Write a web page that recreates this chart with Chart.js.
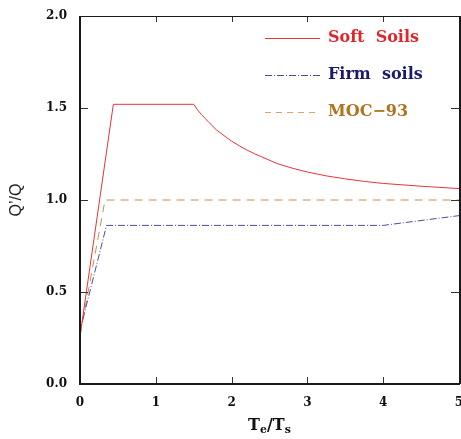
<!DOCTYPE html>
<html>
<head>
<meta charset="utf-8">
<script src="https://cdn.jsdelivr.net/npm/chart.js@4/dist/chart.umd.min.js"></script>
<style>
  html, body { margin: 0; padding: 0; background: #fff; }
  #wrap { width: 461px; height: 439px; }
</style>
</head>
<body>
<div id="wrap"><canvas id="chart" width="461" height="439"></canvas></div>
<script>
// ---- data ----
const softX = [0, 0.44, 1.5, 1.55, 1.6, 1.65, 1.7, 1.8, 1.9, 2.0, 2.1, 2.2, 2.3, 2.4, 2.6, 2.8, 3.0, 3.25, 3.5, 3.75, 4.0, 4.5, 5.0];
const softY = [0.26, 1.52, 1.52, 1.49, 1.465, 1.444, 1.422, 1.381, 1.35, 1.32, 1.295, 1.272, 1.252, 1.234, 1.198, 1.173, 1.152, 1.131, 1.115, 1.101, 1.09, 1.075, 1.062];

const firmX = [0, 0.35, 4.0, 5.0];
const firmY = [0.29, 0.862, 0.862, 0.915];

const mocX = [0, 0.33, 5.0];
const mocY = [0.26, 1.0, 1.0];

const seriesLabels = ["Soft  Soils", "Firm  soils", "MOC\u221293"];
const xTicks = [0, 1, 2, 3, 4, 5];
const yTicks = [0, 0.5, 1.0, 1.5, 2.0];

const SERIF = '"DejaVu Serif", "Liberation Serif", serif';

function pts(xs, ys) {
    return xs.map((x, i) => ({ x, y: ys[i] }));
}

// legend styles (line colour differs a bit from text colour in the original)
const legendStyle = [
    { line: "#e8343a", text: "#e0262c", dash: [] },
    { line: "#4c4c9c", text: "#1c1a6c", dash: [7, 2, 1, 2] },
    { line: "#d6a464", text: "#b0741e", dash: [6, 5] }
];

// ============================================================
// frame, inward ticks, legend and x title with subscripts
// ============================================================
const framePlugin = {
    id: "frame",
    afterDraw(chart) {
        const { ctx, chartArea: a, scales: { x, y } } = chart;
        ctx.save();

        // inward ticks
        ctx.strokeStyle = "#333";
        ctx.lineWidth = 1;
        ctx.beginPath();
        xTicks.forEach(v => {
            const px = Math.round(x.getPixelForValue(v)) + 0.5;
            ctx.moveTo(px, a.bottom); ctx.lineTo(px, a.bottom - 7);
            ctx.moveTo(px, a.top); ctx.lineTo(px, a.top + 6);
        });
        yTicks.forEach(v => {
            const py = Math.round(y.getPixelForValue(v)) + 0.5;
            ctx.moveTo(a.left, py); ctx.lineTo(a.left + 8, py);
            ctx.moveTo(a.right, py); ctx.lineTo(a.right - 8, py);
        });
        ctx.stroke();

        // box: thin top, heavy left / bottom / right
        ctx.strokeStyle = "#1a1a1a";
        ctx.lineWidth = 1;
        ctx.beginPath();
        ctx.moveTo(a.left, Math.round(a.top) + 0.5);
        ctx.lineTo(a.right, Math.round(a.top) + 0.5);
        ctx.stroke();
        ctx.lineWidth = 2;
        ctx.beginPath();
        ctx.moveTo(a.left, a.top);
        ctx.lineTo(a.left, a.bottom);
        ctx.lineTo(a.right + 1, a.bottom);
        ctx.moveTo(a.right + 1, a.top);
        ctx.lineTo(a.right + 1, a.bottom);
        ctx.stroke();

        // legend
        ctx.font = "bold 16px " + SERIF;
        ctx.textBaseline = "middle";
        ctx.textAlign = "left";
        const rowY = [38, 75, 112];
        chart.data.datasets.forEach((ds, i) => {
            const st = legendStyle[i];
            ctx.strokeStyle = st.line;
            ctx.lineWidth = 1;
            ctx.setLineDash(st.dash);
            ctx.beginPath();
            ctx.moveTo(265, rowY[i] + 0.5);
            ctx.lineTo(320, rowY[i] + 0.5);
            ctx.stroke();
            ctx.setLineDash([]);
            ctx.fillStyle = st.text;
            ctx.fillText(ds.label, 328, rowY[i]);
        });

        // x title: T_e / T_s
        const big = "bold 16px " + SERIF;
        const small = "bold 11px " + SERIF;
        const parts = [["T", big, 0], ["e", small, 3], ["/", big, 0], ["T", big, 0], ["s", small, 3]];
        let w = 0;
        parts.forEach(p => { ctx.font = p[1]; w += ctx.measureText(p[0]).width; });
        let cx = (a.left + a.right) / 2 - w / 2;
        ctx.textBaseline = "alphabetic";
        ctx.fillStyle = "#111";
        parts.forEach(p => {
            ctx.font = p[1];
            ctx.fillText(p[0], cx, 430 + p[2]);
            cx += ctx.measureText(p[0]).width;
        });

        ctx.restore();
    }
};

new Chart(document.getElementById("chart"), {
    type: "line",
    data: {
        datasets: [
            {
                label: seriesLabels[0],
                data: pts(softX, softY),
                borderColor: "#e8343a",
                borderWidth: 1,
                pointRadius: 0,
                tension: 0
            },
            {
                label: seriesLabels[1],
                data: pts(firmX, firmY),
                borderColor: "#4c4c9c",
                borderWidth: 1,
                borderDash: [7, 2, 1, 2],
                pointRadius: 0,
                tension: 0
            },
            {
                label: seriesLabels[2],
                data: pts(mocX, mocY),
                borderColor: "#c8904a",
                borderWidth: 1,
                borderDash: [8, 6],
                pointRadius: 0,
                tension: 0
            }
        ]
    },
    options: {
        responsive: false,
        animation: false,
        layout: { padding: { top: 16, right: 2, left: 0, bottom: 0 } },
        plugins: {
            legend: { display: false },
            tooltip: { enabled: false }
        },
        scales: {
            x: {
                type: "linear",
                min: 0,
                max: 5,
                afterBuildTicks: s => { s.ticks = xTicks.map(v => ({ value: v })); },
                ticks: {
                    padding: 12,
                    color: "#111",
                    font: { family: SERIF, weight: "bold", size: 12 },
                    maxRotation: 0,
                    callback: v => String(v)
                },
                grid: { display: false, drawTicks: false },
                border: { display: false },
                afterFit: s => { s.height = 55; s.paddingLeft = 0; s.paddingRight = 0; }
            },
            y: {
                type: "linear",
                min: 0,
                max: 2,
                afterBuildTicks: s => { s.ticks = yTicks.map(v => ({ value: v })); },
                ticks: {
                    padding: 13,
                    color: "#111",
                    font: { family: SERIF, weight: "bold", size: 12 },
                    callback: v => v.toFixed(1)
                },
                grid: { display: false, drawTicks: false },
                border: { display: false },
                title: {
                    display: true,
                    text: "Q\u2019/Q",
                    color: "#222",
                    font: { family: '"Liberation Sans", Arial, sans-serif', size: 16 },
                    padding: { top: 7, bottom: 0 }
                },
                afterFit: s => { s.width = 80; s.paddingTop = 0; s.paddingBottom = 0; }
            }
        }
    },
    plugins: [framePlugin]
});
</script>
</body>
</html>
